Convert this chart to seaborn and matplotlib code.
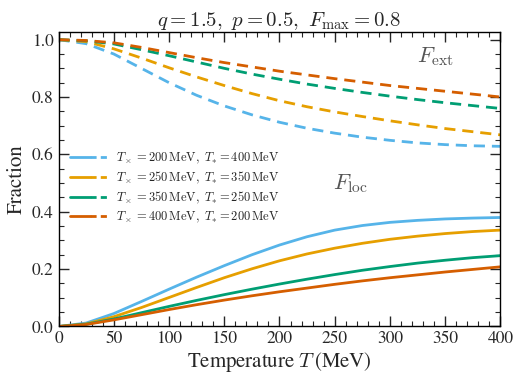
import numpy as np
import pandas as pd
import seaborn as sns
import matplotlib.pyplot as plt
from matplotlib.ticker import MultipleLocator
from matplotlib.legend_handler import HandlerTuple
from matplotlib.lines import Line2D

# temperature grid (MeV)
temps = [0, 25, 50, 75, 100, 125, 150, 175, 200, 225, 250, 275, 300, 325, 350, 375, 400]

# (T_x, T_*) pairs
t_cross = [200, 250, 350, 400]
t_star = [400, 350, 250, 200]
colors = ['#56B4E9', '#E69F00', '#009E73', '#D55E00']

# F_loc (solid)
loc_200 = [0.0, 0.012, 0.045, 0.087, 0.13, 0.172, 0.212, 0.25, 0.284, 0.313, 0.336, 0.352, 0.363, 0.37, 0.375, 0.378, 0.38]
loc_250 = [0.0, 0.009, 0.034, 0.066, 0.101, 0.136, 0.17, 0.201, 0.229, 0.253, 0.273, 0.29, 0.304, 0.315, 0.324, 0.331, 0.336]
loc_350 = [0.0, 0.008, 0.026, 0.048, 0.07, 0.091, 0.111, 0.13, 0.148, 0.165, 0.181, 0.196, 0.209, 0.221, 0.231, 0.24, 0.247]
loc_400 = [0.0, 0.007, 0.023, 0.041, 0.059, 0.076, 0.092, 0.107, 0.121, 0.134, 0.147, 0.159, 0.17, 0.18, 0.19, 0.199, 0.208]

# F_ext (dashed)
ext_200 = [1.0, 0.986, 0.95, 0.9, 0.85, 0.806, 0.769, 0.738, 0.712, 0.691, 0.674, 0.66, 0.649, 0.64, 0.634, 0.63, 0.628]
ext_250 = [1.0, 0.993, 0.968, 0.936, 0.902, 0.87, 0.84, 0.812, 0.787, 0.766, 0.748, 0.732, 0.717, 0.703, 0.69, 0.679, 0.668]
ext_350 = [1.0, 0.996, 0.985, 0.965, 0.944, 0.922, 0.9, 0.88, 0.862, 0.845, 0.83, 0.816, 0.803, 0.791, 0.78, 0.77, 0.76]
ext_400 = [1.0, 0.997, 0.989, 0.973, 0.955, 0.937, 0.92, 0.905, 0.89, 0.877, 0.864, 0.852, 0.84, 0.83, 0.82, 0.81, 0.80]

loc_all = [loc_200, loc_250, loc_350, loc_400]
ext_all = [ext_200, ext_250, ext_350, ext_400]

sns.set_style('ticks')
plt.rcParams['font.family'] = ['STIXGeneral', 'DejaVu Serif']
plt.rcParams['mathtext.fontset'] = 'cm'

fig = plt.figure(figsize=(5.29, 3.82), dpi=100)
ax = fig.add_axes([0.1106, 0.1453, 0.8355, 0.7697])

handles = []
labels = []
for tx, ts, c, loc, ext in zip(t_cross, t_star, colors, loc_all, ext_all):
    df = pd.DataFrame({'T': temps, 'loc': loc, 'ext': ext})
    sns.lineplot(data=df, x='T', y='loc', color=c, lw=2.0, ax=ax)
    sns.lineplot(data=df, x='T', y='ext', color=c, lw=2.0, ls=(0, (4, 2.5)), ax=ax)
    h1 = Line2D([], [], color=c, lw=2.0)
    h2 = Line2D([], [], color=c, lw=2.0, ls=(0, (2.2, 1.5)))
    handles.append((h1, h2))
    labels.append(rf'$T_\times = {tx}\,\mathrm{{MeV}},\ T_{{*}} = {ts}\,\mathrm{{MeV}}$')

ax.legend(handles, labels, handler_map={tuple: HandlerTuple(ndivide=2, pad=0)},
          loc='upper left', bbox_to_anchor=(0.0, 0.635), frameon=False,
          fontsize=9, handlelength=3.2, handletextpad=0.5, labelspacing=0.3)

ax.text(341, 0.94, r'$F_{\mathrm{ext}}$', fontsize=16, color='#555555', ha='center', va='center')
ax.text(264, 0.497, r'$F_{\mathrm{loc}}$', fontsize=16, color='#555555', ha='center', va='center')

ax.set_xlim(0, 400)
ax.set_ylim(0, 1.025)
ax.xaxis.set_major_locator(MultipleLocator(50))
ax.xaxis.set_minor_locator(MultipleLocator(10))
ax.yaxis.set_major_locator(MultipleLocator(0.2))
ax.yaxis.set_minor_locator(MultipleLocator(0.05))
ax.tick_params(which='both', direction='in', top=True, right=True, labelsize=12.5)
ax.tick_params(which='major', length=7, width=1)
ax.tick_params(which='minor', length=3.5, width=0.8)
for s in ax.spines.values():
    s.set_linewidth(1.0)
    s.set_color('black')

ax.set_xlabel(r'Temperature $T\,$(MeV)', fontsize=15, labelpad=2)
ax.set_ylabel('Fraction', fontsize=15, labelpad=4)
ax.set_title(r'$q = 1.5,\ p = 0.5,\ F_{\mathrm{max}} = 0.8$', fontsize=15, pad=4)

fig.savefig('out.png', dpi=100)
